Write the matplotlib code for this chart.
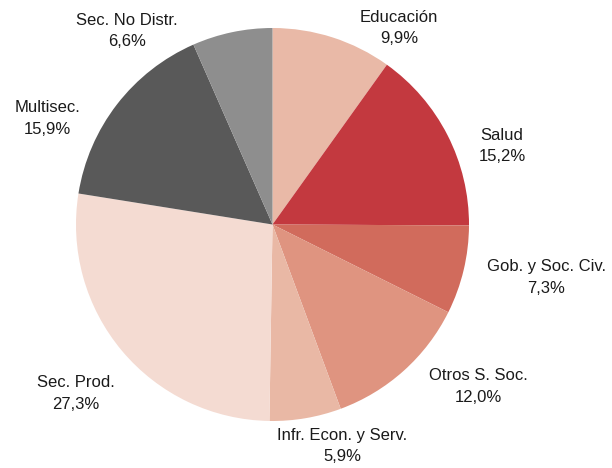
import matplotlib.pyplot as plt

plt.rcParams['font.family'] = ['Liberation Sans', 'DejaVu Sans']

# Data
categories = ['Educación', 'Salud', 'Gob. y Soc. Civ.', 'Otros S. Soc.',
              'Infr. Econ. y Serv.', 'Sec. Prod.', 'Multisec.', 'Sec. No Distr.']
shares = [9.9, 15.2, 7.3, 12.0, 5.9, 27.3, 15.9, 6.6]
colors = ['#E9B9A7', '#C3393F', '#D16B5C', '#DF9480',
          '#E9B8A5', '#F4DBD2', '#595959', '#8E8E8E']

# label positions (in pie-radius units), placed like the original
label_pos = [(0.645, 1.00), (1.168, 0.40), (1.392, -0.27), (1.046, -0.825),
             (0.355, -1.128), (-1.0, -0.86), (-1.147, 0.54), (-0.74, 0.985)]

fig = plt.figure(figsize=(6.12, 4.68), dpi=100)
ax = fig.add_axes([76 / 612, 47 / 468, 393 / 612, 393 / 468])

ax.pie(shares, colors=colors, startangle=90, counterclock=False,
       wedgeprops={'linewidth': 0})
ax.set_xlim(-1, 1)
ax.set_ylim(-1, 1)
ax.set_aspect('equal')
ax.axis('off')

for name, val, (x, y) in zip(categories, shares, label_pos):
    txt = f"{name}\n" + f"{val:.1f}".replace('.', ',') + "%"
    ax.text(x, y, txt, ha='center', va='center', fontsize=12,
            color='#1a1a1a', linespacing=1.55)

fig.savefig('out.png', dpi=100)
